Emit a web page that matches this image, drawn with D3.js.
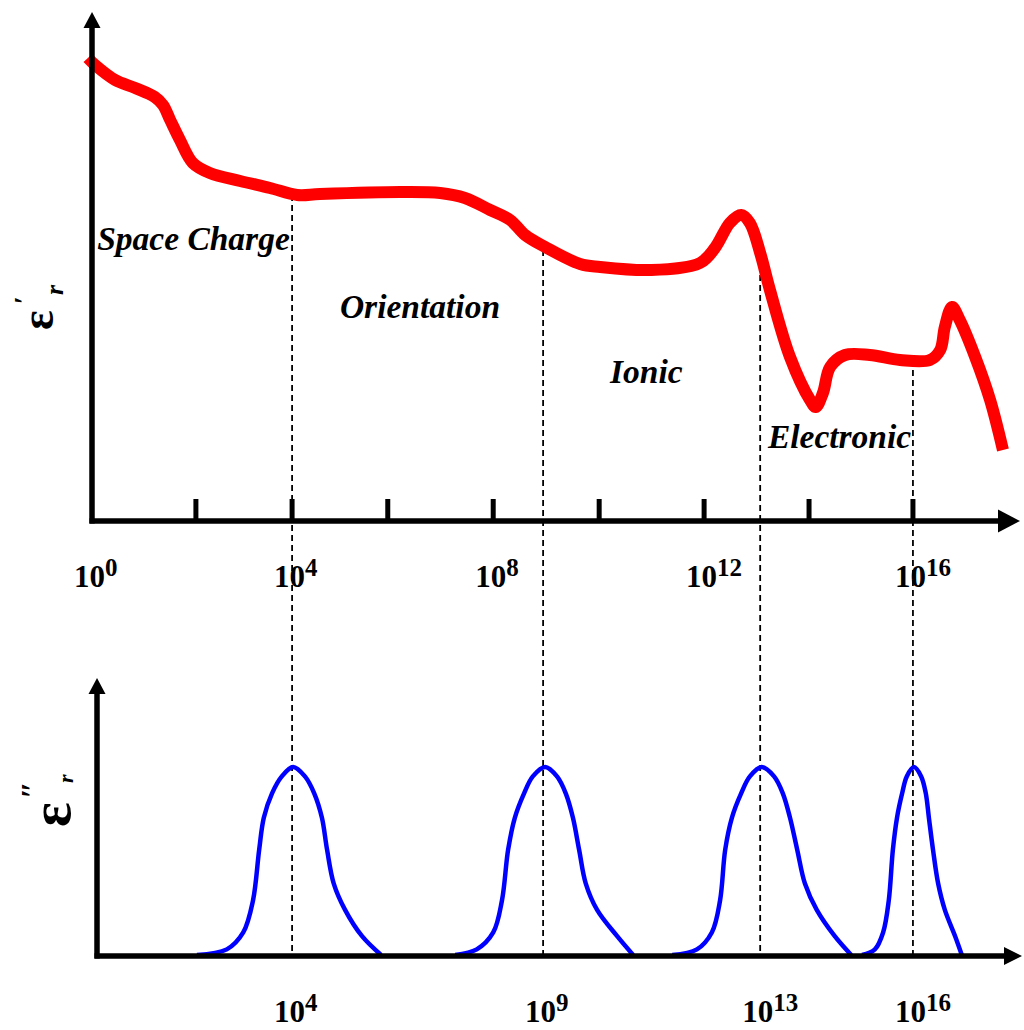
<!DOCTYPE html>
<html>
<head>
<meta charset="utf-8">
<script src="https://cdn.jsdelivr.net/npm/d3@7"></script>
<style>
  html, body { margin: 0; padding: 0; background: #fff; }
  svg { display: block; }
  text { font-family: "Liberation Serif", "Times New Roman", serif; font-weight: bold; fill: #000; }
</style>
</head>
<body>
<div id="chart"></div>
<script>
const width = 1024;
const height = 1030;

// real part (red), x in decades of frequency, y in arbitrary units
const realDecade = [-0.08, 0.06, 0.45, 0.84, 1.22, 1.38, 1.52, 1.71, 1.96, 2.29,
  2.88, 3.46, 3.99, 4.43, 5.99, 6.77, 7.25, 7.74, 8.13, 8.42,
  8.81, 9.49, 9.88, 10.85, 11.82, 12.11, 12.40, 12.62, 12.79, 12.99,
  13.18, 13.57, 13.96, 14.07, 14.21, 14.35, 14.64, 15.12, 15.71, 16.29,
  16.49, 16.58, 16.72, 16.87, 17.17, 17.46, 17.71];
const realValue = [9.24, 9.10, 8.80, 8.64, 8.46, 8.30, 8.00, 7.60, 7.14, 6.94,
  6.78, 6.64, 6.50, 6.52, 6.56, 6.54, 6.44, 6.20, 6.00, 5.70,
  5.46, 5.12, 5.06, 5.00, 5.14, 5.44, 5.94, 6.10, 5.94, 5.34,
  4.60, 3.26, 2.40, 2.26, 2.54, 3.06, 3.30, 3.30, 3.20, 3.20,
  3.40, 3.86, 4.26, 4.00, 3.26, 2.40, 1.40];

// imaginary part (blue): loss levels and where each peak crosses them
const peakLevel = [0, 0.03, 0.12, 0.29, 0.56, 0.73, 0.86, 0.95, 1, 0.95, 0.86, 0.73, 0.56, 0.38, 0.24, 0.10, 0];
const peakSpaceDecade = [2.04, 2.62, 2.94, 3.13, 3.25, 3.34, 3.50, 3.69, 3.91, 4.14, 4.32, 4.47, 4.57, 4.70, 4.92, 5.25, 5.62];
const peakOrientDecade = [7.06, 7.48, 7.80, 7.97, 8.09, 8.22, 8.40, 8.57, 8.81, 9.04, 9.21, 9.35, 9.47, 9.60, 9.82, 10.21, 10.52];
const peakIonicDecade = [11.28, 11.76, 12.05, 12.21, 12.31, 12.44, 12.62, 12.79, 13.02, 13.26, 13.43, 13.57, 13.71, 13.86, 14.09, 14.44, 14.76];
const peakElecDecade = [14.97, 15.22, 15.38, 15.49, 15.57, 15.65, 15.75, 15.84, 15.98, 16.12, 16.21, 16.27, 16.35, 16.45, 16.58, 16.78, 16.91];

// top axis ticks (hand drawn, read where they sit) and their labels
const tickDecade = [0, 2.02, 3.89, 5.75, 7.8, 9.86, 11.9, 13.94, 15.96];
const tickExp = ["0", "", "4", "", "8", "", "12", "", "16"];

// relaxation frequencies (dashed lines) and bottom labels
const dropDecade = [3.89, 8.77, 12.99, 15.96];
const dropTop = [6.5, 5.4, 5.3, 3.2];
const dropExp = ["4", "9", "13", "16"];

// mechanism names
const regionNames = ["Space Charge", "Orientation", "Ionic", "Electronic"];
const regionDecade = [0.1, 4.82, 10.07, 13.14];
const regionValue = [5.4, 4.04, 2.74, 1.44];

const topFrame = { x0: 92, y0: 521, yTip: 12, xTip: 1020 };
const botFrame = { x0: 97, y0: 956, yTip: 678, xTip: 1022 };

const svg = d3.select("#chart").append("svg")
  .attr("width", width)
  .attr("height", height);

const x = d3.scaleLinear().domain([0, 16]).range([92, 915]);
const yTop = d3.scaleLinear().domain([0, 10]).range([520, 20]);
const yBot = d3.scaleLinear().domain([0, 1]).range([955, 767]);

// dashed drop lines
svg.append("g")
  .selectAll("line")
  .data(dropDecade)
  .join("line")
  .attr("x1", (d) => x(d))
  .attr("x2", (d) => x(d))
  .attr("y1", (d, i) => yTop(dropTop[i]))
  .attr("y2", yBot(0))
  .attr("stroke", "#000")
  .attr("stroke-width", 1.8)
  .attr("stroke-dasharray", "6,4");

// red curve
const realLine = d3.line()
  .x((d) => x(d[0]))
  .y((d) => yTop(d[1]))
  .curve(d3.curveCatmullRom.alpha(0.5));

svg.append("path")
  .datum(d3.zip(realDecade, realValue))
  .attr("d", realLine)
  .attr("fill", "none")
  .attr("stroke", "#ff0000")
  .attr("stroke-width", 12)
  .attr("stroke-linejoin", "round");

// blue peaks
const lossLine = d3.line()
  .x((d) => x(d[0]))
  .y((d) => yBot(d[1]))
  .curve(d3.curveCatmullRom.alpha(0.5));

svg.append("g")
  .selectAll("path")
  .data([peakSpaceDecade, peakOrientDecade, peakIonicDecade, peakElecDecade])
  .join("path")
  .attr("d", (d) => lossLine(d3.zip(d, peakLevel)))
  .attr("fill", "none")
  .attr("stroke", "#0000ff")
  .attr("stroke-width", 4.5);

// axes with arrow heads
function drawAxes(p, xHead, yHead) {
  const g = svg.append("g");
  g.append("line")
    .attr("x1", p.x0).attr("x2", p.x0)
    .attr("y1", p.y0 + 2.5).attr("y2", p.yTip + yHead[0])
    .attr("stroke", "#000").attr("stroke-width", 5.5);
  g.append("line")
    .attr("x1", p.x0 - 2.5).attr("x2", p.xTip - xHead[0])
    .attr("y1", p.y0).attr("y2", p.y0)
    .attr("stroke", "#000").attr("stroke-width", 5.5);
  g.append("path")
    .attr("d", `M${p.x0},${p.yTip}L${p.x0 - yHead[1]},${p.yTip + yHead[0]}L${p.x0 + yHead[1]},${p.yTip + yHead[0]}Z`)
    .attr("fill", "#000");
  g.append("path")
    .attr("d", `M${p.xTip},${p.y0}L${p.xTip - xHead[0]},${p.y0 - xHead[1]}L${p.xTip - xHead[0]},${p.y0 + xHead[1]}Z`)
    .attr("fill", "#000");
  return g;
}

const topAxis = drawAxes(topFrame, [22, 11.5], [16, 8.5]);
drawAxes(botFrame, [18, 9], [16, 8.5]);

topAxis.selectAll(".tick")
  .data(tickDecade.slice(1))
  .join("line")
  .attr("class", "tick")
  .attr("x1", (d) => x(d))
  .attr("x2", (d) => x(d))
  .attr("y1", topFrame.y0 - 22)
  .attr("y2", topFrame.y0)
  .attr("stroke", "#000")
  .attr("stroke-width", 5);

// power-of-ten labels
function powerLabel(sel, baseY) {
  sel.append("tspan").attr("font-size", 31).text("10");
  sel.append("tspan").attr("font-size", 25).attr("dy", -11).text((d) => d.exp);
  sel.attr("y", baseY);
}

svg.append("g")
  .selectAll("text")
  .data(tickDecade.map((d, i) => ({ at: d, exp: tickExp[i] })).filter((d) => d.exp))
  .join("text")
  .attr("x", (d) => x(d.at) - 18)
  .call(powerLabel, 587);

svg.append("g")
  .selectAll("text")
  .data(dropDecade.map((d, i) => ({ at: d, exp: dropExp[i] })))
  .join("text")
  .attr("x", (d) => x(d.at) - 18)
  .call(powerLabel, 1022);

// mechanism labels
svg.append("g")
  .selectAll("text")
  .data(regionNames)
  .join("text")
  .attr("x", (d, i) => x(regionDecade[i]))
  .attr("y", (d, i) => yTop(regionValue[i]))
  .attr("font-size", 33.5)
  .attr("font-style", "italic")
  .text((d) => d);

// y axis symbols
const epsTop = svg.append("g").attr("transform", "translate(53,330) rotate(-90)");
epsTop.append("text").attr("font-size", 46).text("ε");
epsTop.append("text").attr("x", 26).attr("y", -20).attr("font-size", 28).text("′");
epsTop.append("text").attr("x", 35).attr("y", 10).attr("font-size", 26).attr("font-style", "italic").text("r");

const epsBot = svg.append("g").attr("transform", "translate(70,827) rotate(-90)");
epsBot.append("text").attr("font-size", 58).text("ε");
epsBot.append("text").attr("x", 28).attr("y", -27).attr("font-size", 32).text("″");
epsBot.append("text").attr("x", 44).attr("y", 3).attr("font-size", 22).attr("font-style", "italic").text("r");
</script>
</body>
</html>
